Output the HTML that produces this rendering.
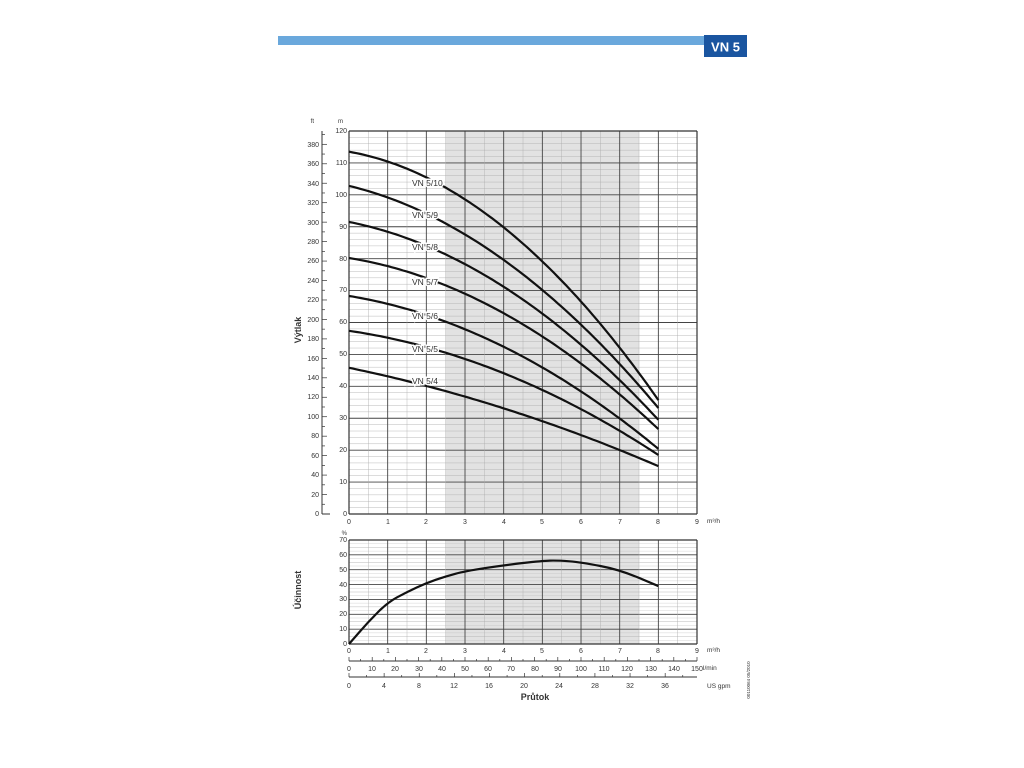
<!DOCTYPE html>
<html><head><meta charset="utf-8"><style>
body{margin:0;background:#fff;width:1024px;height:768px;overflow:hidden}
svg{display:block}
text{font-family:"Liberation Sans",sans-serif;fill:#333}
</style></head><body>
<svg id="s" width="1024" height="768" viewBox="0 0 1024 768" xmlns="http://www.w3.org/2000/svg">
<rect x="278" y="36" width="427" height="9" fill="#6aa8dc"/>
<rect x="704" y="35" width="43" height="22" fill="#1a55a0"/>
<text x="725.5" y="51.5" text-anchor="middle" font-size="13" font-weight="bold" style="fill:#fff">VN 5</text>
<rect x="445.7" y="131" width="193.3" height="383" fill="#e2e2e2"/>
<rect x="445.7" y="540" width="193.3" height="104" fill="#e2e2e2"/>
<g id="g"></g>
<g font-size="7" text-anchor="end">
<text x="347" y="133">120</text><text x="347" y="165">110</text><text x="347" y="197">100</text><text x="347" y="229">90</text><text x="347" y="261">80</text><text x="347" y="292">70</text><text x="347" y="324">60</text><text x="347" y="356">50</text><text x="347" y="388">40</text><text x="347" y="420">30</text><text x="347" y="452">20</text><text x="347" y="484">10</text><text x="347" y="516">0</text>
<text x="343" y="123" font-size="6">m</text><text x="314" y="123" font-size="6">ft</text>
<text x="319" y="516">0</text><text x="319" y="497">20</text><text x="319" y="477">40</text><text x="319" y="458">60</text><text x="319" y="438">80</text><text x="319" y="419">100</text><text x="319" y="399">120</text><text x="319" y="380">140</text><text x="319" y="361">160</text><text x="319" y="341">180</text><text x="319" y="322">200</text><text x="319" y="302">220</text><text x="319" y="283">240</text><text x="319" y="263">260</text><text x="319" y="244">280</text><text x="319" y="225">300</text><text x="319" y="205">320</text><text x="319" y="186">340</text><text x="319" y="166">360</text><text x="319" y="147">380</text>
<text x="347" y="542">70</text><text x="347" y="557">60</text><text x="347" y="572">50</text><text x="347" y="587">40</text><text x="347" y="601">30</text><text x="347" y="616">20</text><text x="347" y="631">10</text><text x="347" y="646">0</text>
<text x="347" y="535" font-size="6">%</text>
</g>
<g font-size="7" text-anchor="middle">
<text x="349" y="524">0</text><text x="388" y="524">1</text><text x="426" y="524">2</text><text x="465" y="524">3</text><text x="504" y="524">4</text><text x="542" y="524">5</text><text x="581" y="524">6</text><text x="620" y="524">7</text><text x="658" y="524">8</text><text x="697" y="524">9</text>
<text x="349" y="653">0</text><text x="388" y="653">1</text><text x="426" y="653">2</text><text x="465" y="653">3</text><text x="504" y="653">4</text><text x="542" y="653">5</text><text x="581" y="653">6</text><text x="620" y="653">7</text><text x="658" y="653">8</text><text x="697" y="653">9</text>
<text x="349" y="671">0</text><text x="372" y="671">10</text><text x="395" y="671">20</text><text x="419" y="671">30</text><text x="442" y="671">40</text><text x="465" y="671">50</text><text x="488" y="671">60</text><text x="511" y="671">70</text><text x="535" y="671">80</text><text x="558" y="671">90</text><text x="581" y="671">100</text><text x="604" y="671">110</text><text x="627" y="671">120</text><text x="651" y="671">130</text><text x="674" y="671">140</text><text x="697" y="671">150</text>
<text x="349" y="688">0</text><text x="384" y="688">4</text><text x="419" y="688">8</text><text x="454" y="688">12</text><text x="489" y="688">16</text><text x="524" y="688">20</text><text x="559" y="688">24</text><text x="595" y="688">28</text><text x="630" y="688">32</text><text x="665" y="688">36</text>
</g>
<g font-size="6.5">
<text x="707" y="523">m³/h</text><text x="707" y="652">m³/h</text><text x="703" y="670">l/min</text><text x="707" y="688">US gpm</text>
</g>
<text x="535" y="700" text-anchor="middle" font-size="9" font-weight="bold">Průtok</text>
<text transform="translate(301,330) rotate(-90)" text-anchor="middle" font-size="9" font-weight="bold">Výtlak</text>
<text transform="translate(301,590) rotate(-90)" text-anchor="middle" font-size="9" font-weight="bold">Účinnost</text>
<text transform="translate(750,680) rotate(-90)" text-anchor="middle" font-size="4.5">00110064 05/2010</text>
<g id="c"></g>
<g font-size="8.5" style="paint-order:stroke;stroke:#fff;stroke-width:3">
<text x="412" y="186">VN 5/10</text><text x="412" y="218">VN 5/9</text><text x="412" y="250">VN 5/8</text><text x="412" y="285">VN 5/7</text><text x="412" y="319">VN 5/6</text><text x="412" y="352">VN 5/5</text><text x="412" y="384">VN 5/4</text>
</g>
</svg>
<script>
var NS="http://www.w3.org/2000/svg",g=document.getElementById('g'),c=document.getElementById('c');
function L(p,x1,y1,x2,y2,w,col){var l=document.createElementNS(NS,'line');l.setAttribute('x1',x1);l.setAttribute('y1',y1);l.setAttribute('x2',x2);l.setAttribute('y2',y2);l.setAttribute('stroke',col||'#333');l.setAttribute('stroke-width',w);p.appendChild(l);}
var X0=349,DX=38.67;
function X(q){return X0+q*DX}
for(var m=0;m<=120;m+=2){var y=514-m*3.1917;L(g,349,y,697,y,m%10?0.4:0.9,m%10?'#aaa':'#444');}
for(var q=0;q<=9;q+=0.5){L(g,X(q),131,X(q),514,q%1?0.4:0.9,q%1?'#aaa':'#444');}
L(g,349,131,697,131,1.2);L(g,349,514,697,514,1.2);L(g,349,131,349,514,1.2);L(g,697,131,697,514,1.2);
L(g,322,131,322,514,1);
for(var f=0;f<=390;f+=10){var y=514-f*0.3048*3.1917;L(g,322,y,f%20?325:327,y,0.7);}
L(g,322,514,330,514,1);
for(var p=0;p<=70;p+=5){var y=644-p*1.4857;L(g,349,y,697,y,p%10?0.4:0.9,p%10?'#aaa':'#444');}
for(var p=2.5;p<70;p+=5){var y=644-p*1.4857;L(g,349,y,697,y,0.3,'#bbb');}
for(var q=0;q<=9;q+=0.5){L(g,X(q),540,X(q),644,q%1?0.4:0.9,q%1?'#aaa':'#444');}
L(g,349,540,697,540,1.2);L(g,349,644,697,644,1.2);L(g,349,540,349,644,1.2);L(g,697,540,697,644,1.2);
L(g,349,661,697,661,0.9);
for(var v=0;v<=150;v+=5){var x=349+v*348/150;L(g,x,661,x,v%10?659:657,0.7);}
L(g,349,677,697,677,0.9);
for(var v=0;v<=39;v+=2){var x=349+v*0.22712*DX;L(g,x,677,x,v%4?675:673,0.7);}
var C=[[113.5,89.8,35.7],[102.8,79.6,33.2],[91.5,71.2,29.5],[80.2,62.9,26.6],[68.3,52.4,20.4],[57.4,44.1,18.5],[45.8,33.1,15]];
C.forEach(function(k){var A=k[0]-k[1],B=k[0]-k[2],c2=(B-2*A)/32,c1=(A-16*c2)/4;var d='';
for(var q=0;q<=8.001;q+=0.1){var h=k[0]-c1*q-c2*q*q;d+=(q?'L':'M')+X(q).toFixed(1)+','+(514-h*3.1917).toFixed(1);}
var pth=document.createElementNS(NS,'path');pth.setAttribute('d',d);pth.setAttribute('fill','none');pth.setAttribute('stroke','#111');pth.setAttribute('stroke-width',2.2);c.appendChild(pth);});
var e=[[0,0],[0.5,15],[1,28],[1.5,35],[2,41],[2.5,45.5],[3,49],[4,53],[5,56],[5.4,56.3],[6,55],[7,50],[8,39]];
var d='M'+X(0)+','+644;for(var i=1;i<e.length;i++){var a=e[i-1],b=e[i];var mx=(X(a[0])+X(b[0]))/2;d+='Q'+X(a[0]).toFixed(1)+','+(644-a[1]*1.4857).toFixed(1)+' '+mx.toFixed(1)+','+(644-(a[1]+b[1])/2*1.4857).toFixed(1);}
d+='L'+X(8)+','+(644-39*1.4857);
var pe=document.createElementNS(NS,'path');pe.setAttribute('d',d);pe.setAttribute('fill','none');pe.setAttribute('stroke','#111');pe.setAttribute('stroke-width',2.2);c.appendChild(pe);
</script>
</body></html>
